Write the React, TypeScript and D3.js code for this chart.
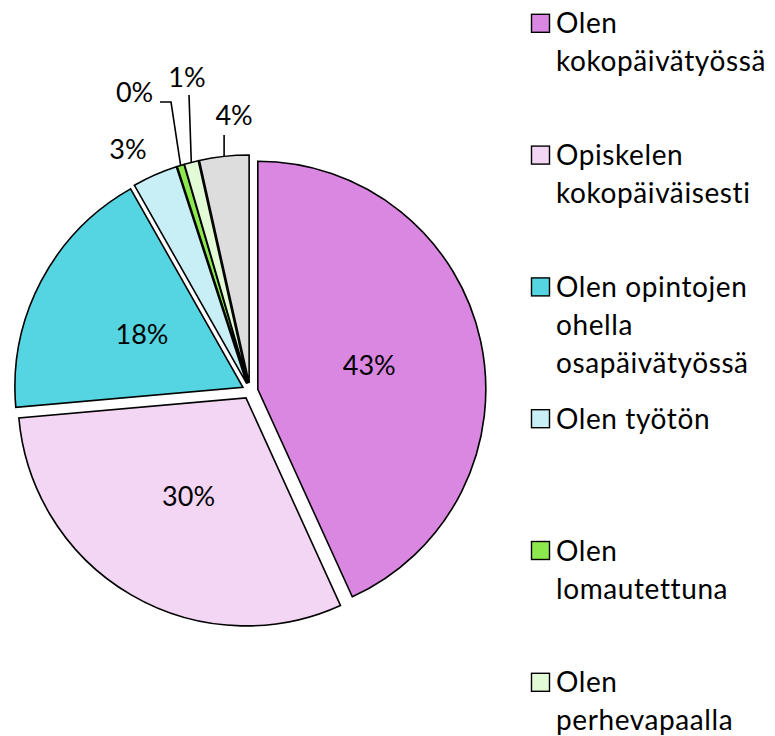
import React, { useEffect, useRef } from 'react';
import * as d3 from 'd3';

const categories = [
  'Olen kokopäivätyössä',
  'Opiskelen kokopäiväisesti',
  'Olen opintojen ohella osapäivätyössä',
  'Olen työtön',
  'Olen lomautettuna',
  'Olen perhevapaalla',
  'Muu',
];
const values = [43.2, 30.4, 18.2, 3.2, 0.5, 1.0, 3.5];
const pctLabels = ['43%', '30%', '18%', '3%', '0%', '1%', '4%'];
const colors = ['#DA87E2', '#F3D5F4', '#55D4E2', '#C8EFF5', '#8CE84C', '#E2FAD6', '#DDDDDD'];
// legend lines as wrapped in the picture
const legendLines = [
  ['Olen', 'kokopäivätyössä'],
  ['Opiskelen', 'kokopäiväisesti'],
  ['Olen opintojen', 'ohella', 'osapäivätyössä'],
  ['Olen työtön'],
  ['Olen', 'lomautettuna'],
  ['Olen', 'perhevapaalla'],
  ['Muu'],
];

const W = 775;
const H = 736;
const cx = 250;
const cy = 391;
const R = 228;
const explode = 8;
const font = 'Lato, "Open Sans", sans-serif';

// outside label placement for the small slices (relative to the arc point)
const outside: Record<number, { dx: number; dy: number; lineTo?: [number, number][] }> = {
  3: { dx: -27, dy: -26 },
  4: { dx: -46, dy: -73, lineTo: [[-9.6, -63.4], [-20.6, -63.4]] },
  5: { dx: -4.3, dy: -85, lineTo: [[-2.3, -67.4]] },
  6: { dx: 10, dy: -41, lineTo: [[0, -21.4]] },
};

const App = () => {
  const ref = useRef<SVGSVGElement>(null);

  useEffect(() => {
    const svg = d3.select(ref.current);
    svg.selectAll('*').remove();

    const pie = d3.pie<number>().sort(null).startAngle(0).endAngle(2 * Math.PI);
    const arcs = pie(values);
    const arc = d3.arc<d3.PieArcDatum<number>>().innerRadius(0).outerRadius(R);

    const off = (d: d3.PieArcDatum<number>) => {
      const a = (d.startAngle + d.endAngle) / 2;
      return [explode * Math.sin(a), -explode * Math.cos(a)];
    };

    const g = svg.append('g').attr('transform', `translate(${cx},${cy})`);

    const slices = g.selectAll('g.slice')
      .data(arcs)
      .enter()
      .append('g')
      .attr('class', 'slice')
      .attr('transform', d => {
        const [ox, oy] = off(d);
        return `translate(${ox},${oy})`;
      });

    slices.append('path')
      .attr('d', arc)
      .attr('fill', (d, i) => colors[i])
      .attr('stroke', '#000')
      .attr('stroke-width', 1.6)
      .attr('stroke-linejoin', 'miter');

    // labels
    slices.each(function (d, i) {
      const s = d3.select(this);
      if (outside[i] === undefined) {
        const [x, y] = arc.centroid(d);
        s.append('text')
          .attr('x', x)
          .attr('y', y + 10)
          .attr('text-anchor', 'middle')
          .attr('font-family', font)
          .attr('font-size', 27)
          .attr('fill', '#000')
          .text(pctLabels[i]);
      } else {
        const a = (d.startAngle + d.endAngle) / 2;
        const ax = R * Math.sin(a);
        const ay = -R * Math.cos(a);
        const o = outside[i];
        if (o.lineTo) {
          const pts: [number, number][] = [[ax, ay], ...o.lineTo.map(p => [ax + p[0], ay + p[1]] as [number, number])];
          s.append('path')
            .attr('d', d3.line()(pts))
            .attr('fill', 'none')
            .attr('stroke', '#000')
            .attr('stroke-width', 1.6);
        }
        s.append('text')
          .attr('x', ax + o.dx)
          .attr('y', ay + o.dy + 10)
          .attr('text-anchor', 'middle')
          .attr('font-family', font)
          .attr('font-size', 27)
          .attr('fill', '#000')
          .text(pctLabels[i]);
      }
    });

    // legend
    const legend = svg.append('g').attr('transform', 'translate(531,0)');
    const item = legend.selectAll('g.item')
      .data(categories)
      .enter()
      .append('g')
      .attr('class', 'item')
      .attr('transform', (d, i) => `translate(0,${33.3 + i * 131.8})`);

    item.append('rect')
      .attr('x', 0.5)
      .attr('y', -19)
      .attr('width', 18)
      .attr('height', 18)
      .attr('fill', (d, i) => colors[i])
      .attr('stroke', '#000')
      .attr('stroke-width', 1.4);

    item.append('text')
      .attr('font-family', font)
      .attr('font-size', 28)
      .attr('letter-spacing', 0.6)
      .attr('fill', '#000')
      .selectAll('tspan')
      .data((d, i) => legendLines[i])
      .enter()
      .append('tspan')
      .attr('x', 25)
      .attr('y', (d, j) => j * 38)
      .text(d => d);
  }, []);

  return (
    <svg
      ref={ref}
      width={W}
      height={H}
      style={{ position: 'absolute', left: 0, top: 0, background: '#fff' }}
    />
  );
};

export default App;
